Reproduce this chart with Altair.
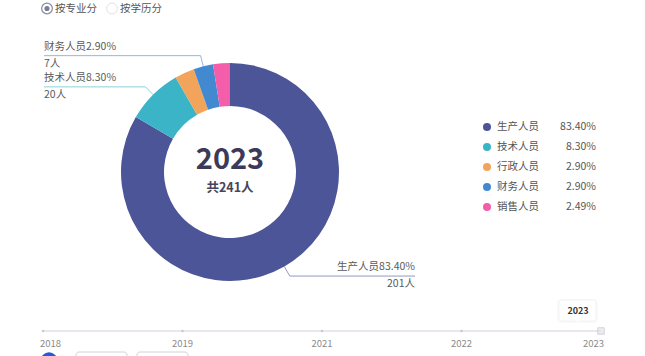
import math
import altair as alt
import pandas as pd

# ---------------- data ----------------
categories = ["生产人员", "技术人员", "行政人员", "财务人员", "销售人员"]
counts = [201, 20, 7, 7, 6]
percents = ["83.40%", "8.30%", "2.90%", "2.90%", "2.49%"]
colors = ["#4b5597", "#3bb4c8", "#f2a55a", "#4289d2", "#f35da9"]
show_label = [True, True, False, True, False]
years = ["2018", "2019", "2021", "2022", "2023"]
current_year = "2023"
modes = ["按专业分", "按学历分"]

FONT = "Noto Sans CJK SC"
CX, CY, R_OUT, R_IN = 230, 172, 109, 66
R_ELBOW = 120
LEFT_X, RIGHT_X = 44, 415
total = sum(counts)

pie_df = pd.DataFrame({
    "cat": categories, "n": counts, "pct": percents,
    "color": colors, "idx": list(range(len(categories))),
})

# leader-line geometry derived from the slice angles
line_rows, label_rows = [], []
cum = 0
for i, (c, n, p, col, show) in enumerate(zip(categories, counts, percents, colors, show_label)):
    mid = (cum + n / 2) / total * 2 * math.pi
    cum += n
    if not show:
        continue
    s, co = math.sin(mid), math.cos(mid)
    p0 = (CX + R_OUT * s, CY - R_OUT * co)
    p1 = (CX + R_ELBOW * s, CY - R_ELBOW * co)
    side = "left" if s < 0 else "right"
    p2 = (LEFT_X if side == "left" else RIGHT_X, p1[1])
    for k, pt in enumerate([p0, p1, p2]):
        line_rows.append({"cat": c, "k": k, "px": pt[0], "py": pt[1], "color": col})
    label_rows.append({"cat": c, "side": side, "x": p2[0], "y": p2[1],
                       "t1": f"{c}{p}", "t2": f"{n}人"})
lines_df = pd.DataFrame(line_rows)
labels_df = pd.DataFrame(label_rows)

# ---------------- donut ----------------
arc = alt.Chart(pie_df).mark_arc(outerRadius=R_OUT, innerRadius=R_IN).encode(
    theta=alt.Theta("n:Q", stack=True),
    color=alt.Color("color:N", scale=None),
    order=alt.Order("idx:Q"),
    x=alt.value(CX), y=alt.value(CY),
)

center_df = pd.DataFrame({"year": [current_year], "tot": [f"共{total}人"]})
center_year = alt.Chart(center_df).mark_text(
    font=FONT, fontSize=29, fontWeight="bold", color="#3c3a58", baseline="middle"
).encode(text="year:N", x=alt.value(CX), y=alt.value(CY - 12))
center_total = alt.Chart(center_df).mark_text(
    font=FONT, fontSize=12.5, fontWeight="bold", color="#474559", baseline="middle"
).encode(text="tot:N", x=alt.value(CX), y=alt.value(CY + 16))

leader = alt.Chart(lines_df).mark_line(strokeWidth=1, strokeOpacity=0.6).encode(
    x=alt.X("px:Q", scale=None), y=alt.Y("py:Q", scale=None),
    detail="cat:N", order="k:Q", color=alt.Color("color:N", scale=None),
)

def pie_label(side, field, dy):
    return alt.Chart(labels_df).transform_filter(
        alt.datum.side == side
    ).mark_text(
        font=FONT, fontSize=10.5, color="#5a5a5a", align=side, baseline="middle", dy=dy
    ).encode(x=alt.X("x:Q", scale=None), y=alt.Y("y:Q", scale=None), text=f"{field}:N")

pie_labels = [pie_label(s, f, d) for s in ["left", "right"] for f, d in [("t1", -9), ("t2", 8)]]

# ---------------- legend ----------------
leg_y = alt.Y("cat:N", scale=alt.Scale(domain=categories, range=[127, 207], padding=0), axis=None)
leg_dot = alt.Chart(pie_df).mark_circle(size=64, opacity=1).encode(
    y=leg_y, x=alt.value(487), color=alt.Color("color:N", scale=None))
leg_name = alt.Chart(pie_df).mark_text(
    font=FONT, fontSize=10.5, color="#555555", align="left", baseline="middle"
).encode(y=leg_y, x=alt.value(497), text="cat:N")
leg_pct = alt.Chart(pie_df).mark_text(
    font=FONT, fontSize=10.5, color="#555555", align="right", baseline="middle"
).encode(y=leg_y, x=alt.value(596), text="pct:N")

# ---------------- timeline ----------------
year_df = pd.DataFrame({"year": years, "o": list(range(len(years)))})
tx = alt.X("year:N", scale=alt.Scale(domain=years, range=[43, 601], padding=0), axis=None)
TL_Y = 331
tl_line = alt.Chart(year_df).mark_line(color="#e6e8ef", strokeWidth=2).encode(
    x=tx, y=alt.value(TL_Y), order="o:Q")
tl_ticks = alt.Chart(year_df).transform_filter(alt.datum.year != current_year).mark_point(
    filled=True, size=5, color="#b5b9c6", shape="square"
).encode(x=tx, y=alt.value(TL_Y))
tl_handle = alt.Chart(year_df).transform_filter(alt.datum.year == current_year).mark_point(
    filled=True, size=42, shape="square", fill="#e6e6e9", stroke="#c3c3c8", strokeWidth=1
).encode(x=tx, y=alt.value(TL_Y))

def tl_label(cond, align, dx):
    return alt.Chart(year_df).transform_filter(cond).mark_text(
        font=FONT, fontSize=9.5, color="#8a8a8a", align=align, baseline="middle", dx=dx
    ).encode(x=tx, y=alt.value(TL_Y + 13), text="year:N")

tl_labels = [
    tl_label(alt.datum.year == years[0], "left", -3),
    tl_label((alt.datum.year != years[0]) & (alt.datum.year != years[-1]), "center", 0),
    tl_label(alt.datum.year == years[-1], "right", 3),
]

tip_df = pd.DataFrame({"year": [current_year]})
tip_shadow = alt.Chart(tip_df).mark_rect(
    cornerRadius=4, fill="#000000", opacity=0.025
).encode(x=alt.value(557), x2=alt.value(598), y=alt.value(299), y2=alt.value(323))
tip_box = alt.Chart(tip_df).mark_rect(
    cornerRadius=3, fill="#ffffff", stroke="#f0f0f0", strokeWidth=0.8
).encode(x=alt.value(559), x2=alt.value(596), y=alt.value(300), y2=alt.value(321))
tip_arrow = alt.Chart(tip_df).mark_point(
    shape="triangle-down", filled=True, size=18, color="#ffffff"
).encode(x=alt.value(578), y=alt.value(322))
tip_text = alt.Chart(tip_df).mark_text(
    font=FONT, fontSize=9, fontWeight="bold", color="#333333", baseline="middle"
).encode(x=alt.value(578), y=alt.value(310.5), text="year:N")

# ---------------- radio buttons / controls ----------------
mode_df = pd.DataFrame({"mode": modes})
r1 = alt.Chart(mode_df).transform_filter(alt.datum.mode == modes[0]).mark_point(
    shape="circle", size=115, filled=False, stroke="#575c7c", strokeWidth=1.2
).encode(x=alt.value(47), y=alt.value(8.5))
r1dot = alt.Chart(mode_df).transform_filter(alt.datum.mode == modes[0]).mark_point(
    shape="circle", size=26, filled=True, color="#3f4466"
).encode(x=alt.value(47), y=alt.value(8.5))
r2 = alt.Chart(mode_df).transform_filter(alt.datum.mode == modes[1]).mark_point(
    shape="circle", size=115, filled=False, stroke="#d6d6dc", strokeWidth=1
).encode(x=alt.value(112), y=alt.value(8.5))
t1 = alt.Chart(mode_df).transform_filter(alt.datum.mode == modes[0]).mark_text(
    font=FONT, fontSize=10.5, color="#555555", align="left", baseline="middle"
).encode(x=alt.value(55), y=alt.value(9), text="mode:N")
t2 = alt.Chart(mode_df).transform_filter(alt.datum.mode == modes[1]).mark_text(
    font=FONT, fontSize=10.5, color="#555555", align="left", baseline="middle"
).encode(x=alt.value(120), y=alt.value(9), text="mode:N")

play = alt.Chart(tip_df).mark_circle(size=300, color="#2559d6", opacity=1).encode(
    x=alt.value(49), y=alt.value(361))
btn1 = alt.Chart(tip_df).mark_rect(
    cornerRadius=3, fill="#ffffff", stroke="#cfd3dc", strokeWidth=1
).encode(x=alt.value(76), x2=alt.value(127), y=alt.value(352), y2=alt.value(375))
btn2 = alt.Chart(tip_df).mark_rect(
    cornerRadius=3, fill="#ffffff", stroke="#cfd3dc", strokeWidth=1
).encode(x=alt.value(137), x2=alt.value(188), y=alt.value(352), y2=alt.value(375))

chart = alt.layer(
    arc, center_year, center_total, leader, *pie_labels,
    leg_dot, leg_name, leg_pct,
    tl_line, tl_ticks, tl_handle, *tl_labels,
    tip_shadow, tip_box, tip_arrow, tip_text,
    r1, r1dot, r2, t1, t2, play, btn1, btn2,
).resolve_scale(
    x="independent", y="independent", theta="independent"
).properties(
    width=645, height=356, autosize=alt.AutoSizeParams(type="none"), padding=0,
    background="#ffffff",
).configure_view(stroke=None)

chart.save("out.html", embed_options={"renderer": "svg", "actions": False})
